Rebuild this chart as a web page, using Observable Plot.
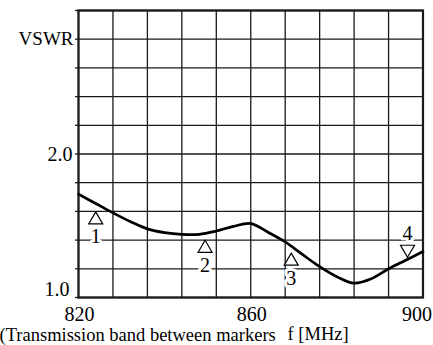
<!DOCTYPE html>
<html>
<head>
<meta charset="utf-8">
<script src="https://cdn.jsdelivr.net/npm/d3@7"></script>
<script src="https://cdn.jsdelivr.net/npm/@observablehq/plot@0.6"></script>
<style>
  html, body { margin: 0; padding: 0; background: #fff; }
  #chart { width: 433px; height: 345px; overflow: hidden; }
</style>
</head>
<body>
<div id="chart"></div>
<script>
// Measured VSWR curve
const freq = [820, 824, 828, 832, 836, 840, 844, 848, 852, 856, 860, 864, 868, 872, 876, 880, 884, 888, 892, 896, 900];
const vswr = [1.72, 1.655, 1.59, 1.53, 1.478, 1.452, 1.44, 1.44, 1.463, 1.496, 1.515, 1.455, 1.387, 1.30, 1.215, 1.145, 1.10, 1.13, 1.20, 1.26, 1.32];

// Band markers
const markerFreq = [824, 849.4, 869.4, 896.4];
const markerVswr = [1.555, 1.357, 1.267, 1.322];
const markerLabel = ["1", "2", "3", "4"];
const markerDir = ["up", "up", "up", "down"];

// Axes
const xGrid = [820, 828, 836, 844, 852, 860, 868, 876, 884, 892, 900];
const yGrid = [1.0, 1.2, 1.4, 1.6, 1.8, 2.0, 2.2, 2.4, 2.6, 2.8, 3.0];
const xTickLabels = [820, 860];
const xTickLast = [900];
const yTickLabels = [2.0];
const yTickBottom = [1.0];
const yTitle = "VSWR";
const yTitleAt = [2.8];
const caption = "(Transmission band between markers";
const xTitle = "f [MHz]";

const curve = freq.map((f, i) => ({f, v: vswr[i]}));
const markers = markerFreq.map((f, i) => ({f, v: markerVswr[i], label: markerLabel[i], dir: markerDir[i]}));
const ups = markers.filter(d => d.dir === "up");
const downs = markers.filter(d => d.dir === "down");

const triUp = {draw(ctx, size) {
  const r = Math.sqrt(size / Math.PI);
  ctx.moveTo(0, -0.86 * r); ctx.lineTo(r, 0.86 * r); ctx.lineTo(-r, 0.86 * r); ctx.closePath();
}};
const triDown = {draw(ctx, size) {
  const r = Math.sqrt(size / Math.PI);
  ctx.moveTo(0, 0.86 * r); ctx.lineTo(r, -0.86 * r); ctx.lineTo(-r, -0.86 * r); ctx.closePath();
}};

const ink = "#1a1a1a";
const serif = "'Liberation Serif', 'Times New Roman', serif";

const chart = Plot.plot({
  width: 433,
  height: 345,
  marginLeft: 78,
  marginRight: 10.5,
  marginTop: 10,
  marginBottom: 48,
  x: {domain: [820, 900]},
  y: {domain: [1, 3]},
  style: {fontFamily: serif, fontSize: "20px", color: "black", background: "white", overflow: "visible"},
  marks: [
    Plot.gridX(xGrid, {stroke: ink, strokeOpacity: 1, strokeWidth: 1.3}),
    Plot.gridY(yGrid, {stroke: ink, strokeOpacity: 1, strokeWidth: 1.3}),
    Plot.axisY({ticks: yGrid, tickSize: 3, tickFormat: () => "", label: null, stroke: ink, strokeWidth: 1.3}),
    Plot.axisY({ticks: yTickLabels, tickSize: 0, tickPadding: 6, tickFormat: d => d.toFixed(1), label: null, fontSize: 20, dy: 1}),
    Plot.axisY({ticks: yTickBottom, tickSize: 0, tickPadding: 9, tickFormat: d => d.toFixed(1), label: null, fontSize: 20, dy: -8}),
    Plot.axisY({ticks: yTitleAt, tickSize: 0, tickPadding: 5, tickFormat: () => yTitle, label: null, fontSize: 19}),
    Plot.axisX({ticks: xTickLabels, tickSize: 0, tickPadding: 9, tickFormat: d => String(d), label: null, fontSize: 20, dx: 1}),
    Plot.axisX({ticks: xTickLast, tickSize: 0, tickPadding: 9, tickFormat: d => String(d), label: null, fontSize: 20, dx: -6}),
    Plot.frame({stroke: ink, strokeWidth: 2.2}),
    Plot.line(curve, {x: "f", y: "v", curve: "catmull-rom", stroke: "black", strokeWidth: 2.7}),
    Plot.dot(ups, {x: "f", y: "v", r: 7, symbol: triUp, fill: "white", stroke: "black", strokeWidth: 1.2}),
    Plot.dot(downs, {x: "f", y: "v", r: 7, symbol: triDown, fill: "white", stroke: "black", strokeWidth: 1.2}),
    Plot.text(ups, {x: "f", y: "v", text: "label", dy: 19, fontSize: 20, fill: "black", stroke: "white", strokeWidth: 6}),
    Plot.text(downs, {x: "f", y: "v", text: "label", dy: -18, fontSize: 20, fill: "black", stroke: "white", strokeWidth: 6}),
    Plot.text([caption], {frameAnchor: "bottom-left", textAnchor: "start", lineAnchor: "middle", dx: -79, dy: 38, fontSize: 18.5, fill: "black"}),
    Plot.text([xTitle], {frameAnchor: "bottom-left", textAnchor: "start", lineAnchor: "middle", dx: 209, dy: 37, fontSize: 18.5, fill: "black"})
  ]
});
document.getElementById("chart").appendChild(chart);
</script>
</body>
</html>
